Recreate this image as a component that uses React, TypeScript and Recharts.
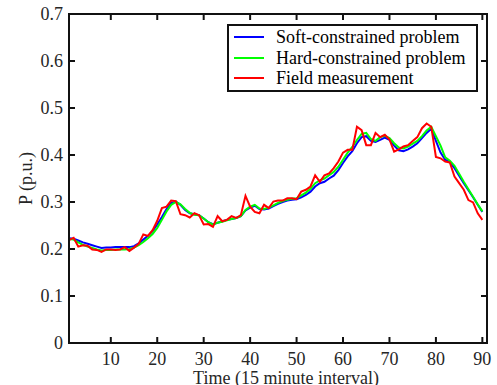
import { LineChart, Line, XAxis, YAxis, ReferenceArea } from 'recharts';

const softConstrained = [
  0.223, 0.222, 0.218, 0.214, 0.211, 0.208, 0.205, 0.202, 0.203, 0.203,
  0.204, 0.204, 0.204, 0.204, 0.206, 0.212, 0.220, 0.228, 0.238, 0.252,
  0.268, 0.285, 0.298, 0.301, 0.294, 0.283, 0.276, 0.274, 0.272, 0.265,
  0.257, 0.253, 0.256, 0.259, 0.262, 0.264, 0.266, 0.270, 0.282, 0.288,
  0.292, 0.285, 0.284, 0.286, 0.291, 0.296, 0.300, 0.303, 0.305, 0.306,
  0.310, 0.315, 0.322, 0.333, 0.340, 0.343, 0.350, 0.356, 0.368, 0.383,
  0.397, 0.408, 0.425, 0.438, 0.440, 0.430, 0.428, 0.432, 0.437, 0.432,
  0.420, 0.410, 0.408, 0.412, 0.418, 0.425, 0.436, 0.447, 0.456, 0.430,
  0.405, 0.390, 0.385, 0.372, 0.356, 0.340, 0.325, 0.310, 0.294, 0.279,
];

const hardConstrained = [
  0.221, 0.220, 0.214, 0.209, 0.205, 0.202, 0.199, 0.197, 0.198, 0.198,
  0.199, 0.199, 0.199, 0.200, 0.203, 0.208, 0.215, 0.223, 0.232, 0.245,
  0.262, 0.280, 0.294, 0.300, 0.295, 0.285, 0.277, 0.273, 0.272, 0.265,
  0.257, 0.252, 0.256, 0.258, 0.261, 0.264, 0.266, 0.270, 0.283, 0.290,
  0.294, 0.286, 0.285, 0.288, 0.293, 0.298, 0.302, 0.305, 0.307, 0.308,
  0.314, 0.320, 0.328, 0.340, 0.346, 0.350, 0.357, 0.364, 0.375, 0.390,
  0.405, 0.417, 0.432, 0.445, 0.447, 0.434, 0.430, 0.438, 0.441, 0.436,
  0.425, 0.416, 0.414, 0.418, 0.424, 0.430, 0.440, 0.452, 0.460, 0.440,
  0.420, 0.395, 0.388, 0.377, 0.360, 0.343, 0.327, 0.311, 0.295, 0.280,
];

const fieldMeasurement = [
  0.219, 0.224, 0.205, 0.208, 0.207, 0.199, 0.198, 0.194, 0.199, 0.199,
  0.198, 0.199, 0.204, 0.196, 0.203, 0.211, 0.231, 0.228, 0.240, 0.260,
  0.287, 0.290, 0.303, 0.302, 0.274, 0.272, 0.267, 0.276, 0.272, 0.252,
  0.253, 0.247, 0.270, 0.259, 0.262, 0.270, 0.266, 0.272, 0.313, 0.290,
  0.279, 0.276, 0.294, 0.287, 0.301, 0.303, 0.303, 0.308, 0.308, 0.306,
  0.322, 0.326, 0.333, 0.357, 0.343, 0.357, 0.361, 0.372, 0.386, 0.405,
  0.411, 0.411, 0.460, 0.453, 0.421, 0.421, 0.447, 0.438, 0.443, 0.433,
  0.407, 0.412, 0.418, 0.421, 0.430, 0.438, 0.457, 0.467, 0.460, 0.396,
  0.393, 0.386, 0.384, 0.354, 0.340, 0.326, 0.304, 0.299, 0.276, 0.262,
];

const xTicks = [10, 20, 30, 40, 50, 60, 70, 80, 90];
const yTicks = [0, 0.1, 0.2, 0.3, 0.4, 0.5, 0.6, 0.7];

const seriesNames = ['Soft-constrained problem', 'Hard-constrained problem', 'Field measurement'];
const seriesColors = ['#0000ff', '#00ff00', '#ff0000'];

const data = fieldMeasurement.map((v, i) => ({
  t: i + 1,
  soft: softConstrained[i],
  hard: hardConstrained[i],
  field: v,
}));

const WIDTH = 497;
const HEIGHT = 385;
const MARGIN = { top: 14, right: 10, bottom: 0, left: 0 };
const Y_AXIS_W = 69;
const X_AXIS_H = 42;
const PLOT_TOP = MARGIN.top;
const PLOT_RIGHT = WIDTH - MARGIN.right;

const FONT = '"Liberation Serif", "Times New Roman", serif';
const INK = '#111111';
const TICK_LEN = 6;

// MATLAB-style box ticks, pointing inwards on all four sides
const BottomTick = ({ x, y, payload }: any) => (
  <g>
    <path d={`M${x},${y}V${y - TICK_LEN}`} stroke={INK} strokeWidth={2} fill="none" />
    <path d={`M${x},${PLOT_TOP}V${PLOT_TOP + TICK_LEN}`} stroke={INK} strokeWidth={2} fill="none" />
    <text x={x} y={y + 9.5} dy="0.71em" textAnchor="middle" fontSize={18} fontFamily={FONT} fill="#262626">
      {payload.value}
    </text>
  </g>
);

const LeftTick = ({ x, y, payload }: any) => (
  <g>
    <path d={`M${x},${y}H${x + TICK_LEN}`} stroke={INK} strokeWidth={2} fill="none" />
    <path d={`M${PLOT_RIGHT},${y}H${PLOT_RIGHT - TICK_LEN}`} stroke={INK} strokeWidth={2} fill="none" />
    <text x={x - 6} y={y} dy="0.34em" textAnchor="end" fontSize={18} fontFamily={FONT} fill="#262626">
      {String(payload.value)}
    </text>
  </g>
);

const LegendBox = () => (
  <div
    style={{
      position: 'absolute',
      left: 227,
      top: 24,
      boxSizing: 'border-box',
      width: 251,
      height: 68,
      border: `2px solid ${INK}`,
      background: '#fff',
      fontFamily: FONT,
      fontSize: 18,
      color: '#000',
      paddingTop: 1,
    }}
  >
    {seriesNames.map((name, i) => (
      <div key={name} style={{ display: 'flex', alignItems: 'center', height: 20.5 }}>
        <svg width={44} height={6} style={{ marginLeft: 3 }}>
          <line x1={2} y1={3} x2={32} y2={3} stroke={seriesColors[i]} strokeWidth={2} />
        </svg>
        <span style={{ lineHeight: '20px' }}>{name}</span>
      </div>
    ))}
  </div>
);

const App = () => {
  return (
    <div style={{ position: 'absolute', left: 0, top: 0, width: WIDTH, height: HEIGHT, background: '#fff' }}>
      <LineChart width={WIDTH} height={HEIGHT} data={data} margin={MARGIN}>
        <XAxis
          dataKey="t"
          type="number"
          domain={[1, 91]}
          ticks={xTicks}
          interval={0}
          height={X_AXIS_H}
          tick={<BottomTick />}
          tickSize={0}
          tickMargin={0}
          tickLine={false}
          stroke={INK}
          strokeWidth={2}
          label={{
            content: ({ viewBox }: any) => (
              <text
                x={viewBox.x + viewBox.width / 2 + 8}
                y={viewBox.y + 41}
                textAnchor="middle"
                fontSize={18}
                fontFamily={FONT}
                fill="#262626"
              >
                Time (15 minute interval)
              </text>
            ),
          }}
        />
        <YAxis
          type="number"
          domain={[0, 0.7]}
          ticks={yTicks}
          interval={0}
          width={Y_AXIS_W}
          tick={<LeftTick />}
          tickSize={0}
          tickMargin={0}
          tickLine={false}
          stroke={INK}
          strokeWidth={2}
          label={{
            content: ({ viewBox }: any) => {
              const cx = viewBox.x + 26;
              const cy = viewBox.y + viewBox.height / 2;
              return (
                <text
                  x={cx}
                  y={cy}
                  transform={`rotate(-90 ${cx} ${cy})`}
                  textAnchor="middle"
                  dominantBaseline="central"
                  fontSize={18}
                  fontFamily={FONT}
                  fill="#262626"
                >
                  P (p.u.)
                </text>
              );
            },
          }}
        />
        <ReferenceArea
          x1={1}
          x2={91}
          y1={0}
          y2={0.7}
          fill="none"
          stroke={INK}
          strokeWidth={2}
          ifOverflow="visible"
        />
        <Line dataKey="soft" name={seriesNames[0]} stroke={seriesColors[0]} strokeWidth={2} dot={false} isAnimationActive={false} />
        <Line dataKey="hard" name={seriesNames[1]} stroke={seriesColors[1]} strokeWidth={2} dot={false} isAnimationActive={false} />
        <Line dataKey="field" name={seriesNames[2]} stroke={seriesColors[2]} strokeWidth={2} dot={false} isAnimationActive={false} />
      </LineChart>
      {/* plot box outline */}
      <div
        style={{
          position: 'absolute',
          left: Y_AXIS_W - 1,
          top: PLOT_TOP - 1,
          width: PLOT_RIGHT - Y_AXIS_W + 2,
          height: HEIGHT - X_AXIS_H - PLOT_TOP + 2,
          boxSizing: 'border-box',
          border: `2px solid ${INK}`,
          pointerEvents: 'none',
        }}
      />
      <LegendBox />
    </div>
  );
};

export default App;
